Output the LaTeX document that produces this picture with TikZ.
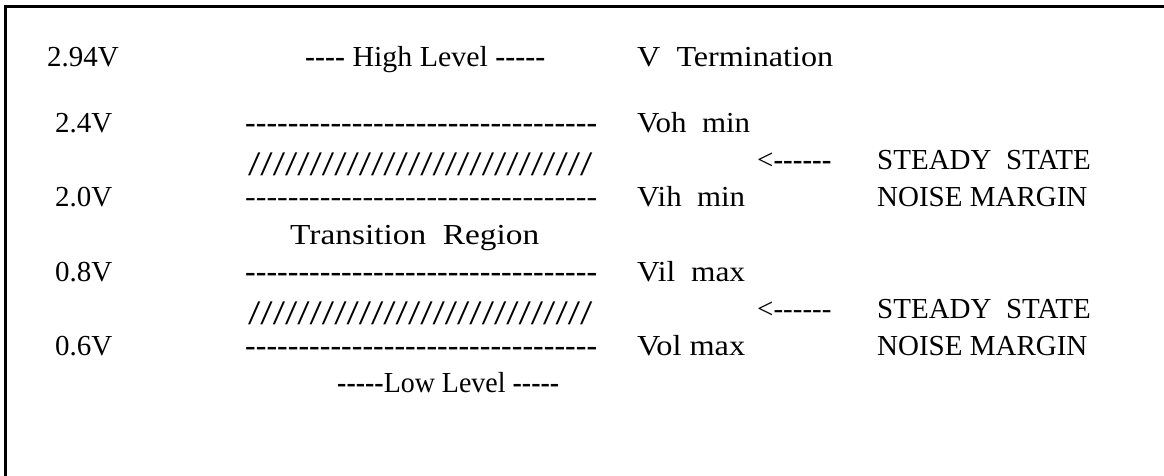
\documentclass[tikz,border=0pt]{standalone}
\usepackage{fontspec}
\setmainfont{Liberation Serif}[Ligatures=TeXOff]
\usepackage{graphicx}
\newcommand{\lblfont}{\fontsize{29}{35}\selectfont}
\newcommand{\dashrow}{---------------------------------}
\newcommand{\slashrow}{\resizebox*{344pt}{23pt}{////////////////////////////}}
\begin{document}
\begin{tikzpicture}[x=1pt,y=1pt,
  lbl/.style={anchor=base west, inner sep=0pt, font=\lblfont},
  frameline/.style={line width=3pt, line join=miter}]
\useasboundingbox (0,0) rectangle (1164,476);
% frame (left and top sides only)
\coordinate (fb) at (5.5,0);
\coordinate (fc) at (5.5,469.5);
\coordinate (fr) at (1164,469.5);
\draw[frameline] (fb) -- (fc) -- (fr);
% top row
\node[lbl] (v294) at (47,409) {2.94V};
\node[lbl] (high) at (305,409) {\resizebox{240pt}{\height}{\textbf{----} High Level \textbf{-----}}};
\node[lbl] (vterm) at (637,409) {\resizebox{196pt}{\height}{V\ \ Termination}};
% 2.4 V
\node[lbl] (v24) at (55,343) {2.4V};
\node[lbl] (dasha) at (245,343) {\resizebox{352pt}{\height}{\textbf{\dashrow}}};
\node[lbl] (voh) at (637,343) {\resizebox{113pt}{\height}{Voh\ \ min}};
% slashes / margin
\node[lbl, anchor=south west] (slasha) at (248,300) {\slashrow};
\node[lbl] (arra) at (757,306) {<\textbf{------}};
\node[lbl] (steadya) at (877,306) {STEADY\ \ STATE};
% 2.0 V
\node[lbl] (v20) at (55,269) {2.0V};
\node[lbl] (dashb) at (245,269) {\resizebox{352pt}{\height}{\dashrow}};
\node[lbl] (vih) at (637,269) {\resizebox{108pt}{\height}{Vih\ \ min}};
\node[lbl] (noisea) at (877,269) {NOISE MARGIN};
% transition
\node[lbl] (trans) at (290,231) {\resizebox{249pt}{\height}{Transition\ \ Region}};
% 0.8 V
\node[lbl] (v08) at (55,194) {0.8V};
\node[lbl] (dashc) at (245,194) {\resizebox{352pt}{\height}{\textbf{\dashrow}}};
\node[lbl] (vil) at (637,194) {\resizebox{108pt}{\height}{Vil\ \ max}};
\node[lbl, anchor=south west] (slashb) at (248,151) {\slashrow};
\node[lbl] (arrb) at (757,157) {<------};
\node[lbl] (steadyb) at (877,157) {STEADY\ \ STATE};
% 0.6 V
\node[lbl] (v06) at (55,120) {0.6V};
\node[lbl] (dashd) at (245,120) {\resizebox{352pt}{\height}{\textbf{\dashrow}}};
\node[lbl] (vol) at (637,120) {\resizebox{108pt}{\height}{Vol max}};
\node[lbl] (noiseb) at (877,120) {NOISE MARGIN};
% low level
\node[lbl] (low) at (337,83) {\resizebox{222pt}{\height}{\textbf{-----}Low Level \textbf{-----}}};
\end{tikzpicture}
\end{document}
